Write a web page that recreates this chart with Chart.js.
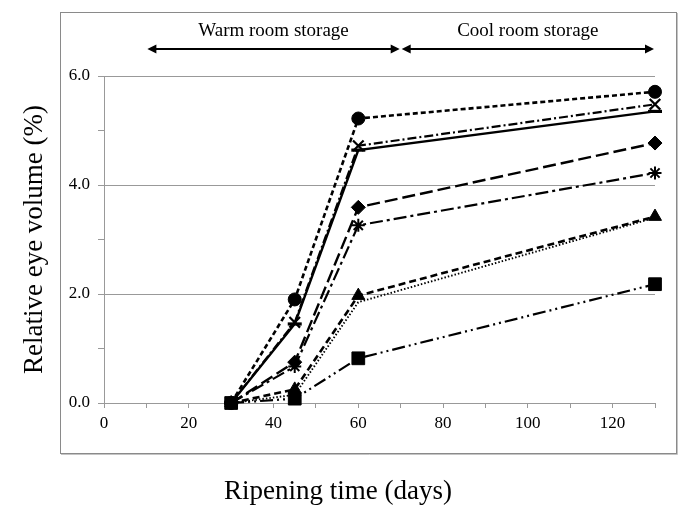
<!DOCTYPE html>
<html>
<head>
<meta charset="utf-8">
<script src="https://cdn.jsdelivr.net/npm/chart.js"></script>
<style>
  html, body { margin: 0; padding: 0; background: #fff; }
  #chart { display: block; }
</style>
</head>
<body>
<canvas id="chart" width="680" height="505"></canvas>
<script>
const FONT = "'Liberation Serif', 'Times New Roman', serif";

// sampling days (x) and relative eye volume (%) per treatment
const DAYS = [30, 45, 60, 130];
const SQUARE_VALUES = [0, 0.08, 0.82, 2.18];
const CIRCLE_VALUES = [0, 1.9, 5.22, 5.71];
const CROSS_VALUES = [0, 1.48, 4.72, 5.48];
const SOLID_VALUES = [0, 1.45, 4.64, 5.35];
const DIAMOND_VALUES = [0, 0.75, 3.59, 4.77];
const ASTERISK_VALUES = [0, 0.67, 3.26, 4.22];
const TRIANGLE_VALUES = [0, 0.25, 1.97, 3.42];
const DOTTED_VALUES = [0, 0.15, 1.85, 3.4];

const X_TICK_LABELS = [0, 20, 40, 60, 80, 100, 120];
const Y_TICK_LABELS = [0, 2, 4, 6];

const PERIOD_RANGES = [[10, 70], [70, 130]];
const PERIOD_LABELS = ["Warm room storage", "Cool room storage"];

function toPoints(values) {
  return DAYS.map((d, i) => ({ x: d, y: values[i] }));
}

function series(values, pointStyle, radius, dash, width, pointWidth) {
  return {
    data: toPoints(values),
    borderColor: "#000",
    backgroundColor: "#000",
    borderWidth: width,
    borderDash: dash,
    pointStyle: pointStyle,
    pointRadius: radius,
    pointBorderWidth: pointWidth || 1,
    pointBackgroundColor: "#000",
    pointBorderColor: "#000",
    tension: 0,
    clip: false,
  };
}

const frameAndPeriods = {
  id: "frameAndPeriods",
  beforeDraw(chart) {
    const ctx = chart.ctx;
    ctx.save();
    ctx.fillStyle = "#fff";
    ctx.fillRect(0, 0, chart.width, chart.height);
    ctx.strokeStyle = "#c4c4c4";
    ctx.lineWidth = 1;
    ctx.beginPath();
    ctx.moveTo(677.5, 13);
    ctx.lineTo(677.5, 454.5);
    ctx.lineTo(61, 454.5);
    ctx.stroke();
    ctx.strokeStyle = "#8a8a8a";
    ctx.strokeRect(60.5, 12.5, 616, 441);
    ctx.restore();
  },
  afterDraw(chart) {
    const ctx = chart.ctx;
    const xs = chart.scales.x;
    const lineY = chart.chartArea.top - 27;
    const textY = chart.chartArea.top - 45;
    ctx.save();
    ctx.strokeStyle = "#000";
    ctx.fillStyle = "#000";
    ctx.lineWidth = 2;
    PERIOD_RANGES.forEach(([from, to], i) => {
      const x1 = xs.getPixelForValue(from) + 1;
      const x2 = xs.getPixelForValue(to) - 1;
      ctx.beginPath();
      ctx.moveTo(x1 + 6, lineY);
      ctx.lineTo(x2 - 6, lineY);
      ctx.stroke();
      ctx.beginPath();
      ctx.moveTo(x1, lineY);
      ctx.lineTo(x1 + 9, lineY - 4.5);
      ctx.lineTo(x1 + 9, lineY + 4.5);
      ctx.closePath();
      ctx.fill();
      ctx.beginPath();
      ctx.moveTo(x2, lineY);
      ctx.lineTo(x2 - 9, lineY - 4.5);
      ctx.lineTo(x2 - 9, lineY + 4.5);
      ctx.closePath();
      ctx.fill();
      ctx.font = "19px " + FONT;
      ctx.textAlign = "center";
      ctx.textBaseline = "middle";
      ctx.fillText(PERIOD_LABELS[i], (x1 + x2) / 2, textY);
    });
    ctx.restore();
  },
};

new Chart(document.getElementById("chart"), {
  type: "line",
  data: {
    datasets: [
      series(SQUARE_VALUES, "rect", 9, [13, 4, 2, 4, 2, 4], 2.2),
      series(CIRCLE_VALUES, "circle", 6.5, [5, 3], 2.6),
      series(CROSS_VALUES, "crossRot", 7.5, [9, 3, 2, 3], 2.2, 2.2),
      series(SOLID_VALUES, "line", 7, [], 2.4, 3.2),
      series(DIAMOND_VALUES, "rectRot", 7, [13, 5], 2.4),
      series(ASTERISK_VALUES, "star", 6.5, [13, 4, 3, 4], 2.2, 2),
      series(TRIANGLE_VALUES, "triangle", 7.5, [7, 4], 2.6),
      series(DOTTED_VALUES, "circle", 0, [1.5, 2], 1.9),
    ],
  },
  options: {
    responsive: false,
    animation: false,
    layout: { padding: { top: 76, right: 4, bottom: 0, left: 0 } },
    plugins: {
      legend: { display: false },
      tooltip: { enabled: false },
      title: {
        display: true,
        text: "Ripening time (days)",
        position: "bottom",
        color: "#000",
        font: { family: FONT, size: 27, weight: "normal", lineHeight: 1 },
        padding: { top: 10, bottom: 0 },
      },
    },
    scales: {
      x: {
        type: "linear",
        min: 0,
        max: 130,
        ticks: {
          stepSize: 10,
          autoSkip: false,
          maxRotation: 0,
          color: "#000",
          font: { family: FONT, size: 17 },
          padding: 5,
          callback: (v) => (X_TICK_LABELS.includes(v) ? String(v) : ""),
        },
        grid: { drawOnChartArea: false, tickLength: 5, tickColor: "#999" },
        border: { color: "#999" },
        afterFit: (s) => { s.height = 65; },
      },
      y: {
        min: 0,
        max: 6,
        ticks: {
          stepSize: 1,
          color: "#000",
          font: { family: FONT, size: 17 },
          padding: 8,
          callback: (v) => (Y_TICK_LABELS.includes(v) ? v.toFixed(1) : ""),
        },
        grid: {
          color: (c) => (c.tick && Y_TICK_LABELS.includes(c.tick.value) && c.tick.value > 0 ? "#999" : "rgba(0,0,0,0)"),
          tickColor: "#999",
          tickLength: 6,
        },
        border: { color: "#999" },
        title: {
          display: true,
          text: "Relative eye volume (%)",
          color: "#000",
          font: { family: FONT, size: 27, weight: "normal", lineHeight: 1 },
          padding: { top: 21, bottom: 0 },
        },
        afterFit: (s) => { s.width = 104; },
      },
      spacer: {
        position: "right",
        display: true,
        ticks: { display: false },
        grid: { display: false },
        border: { display: false },
        afterFit: (s) => { s.width = 21; },
      },
    },
  },
  plugins: [frameAndPeriods],
});
</script>
</body>
</html>
